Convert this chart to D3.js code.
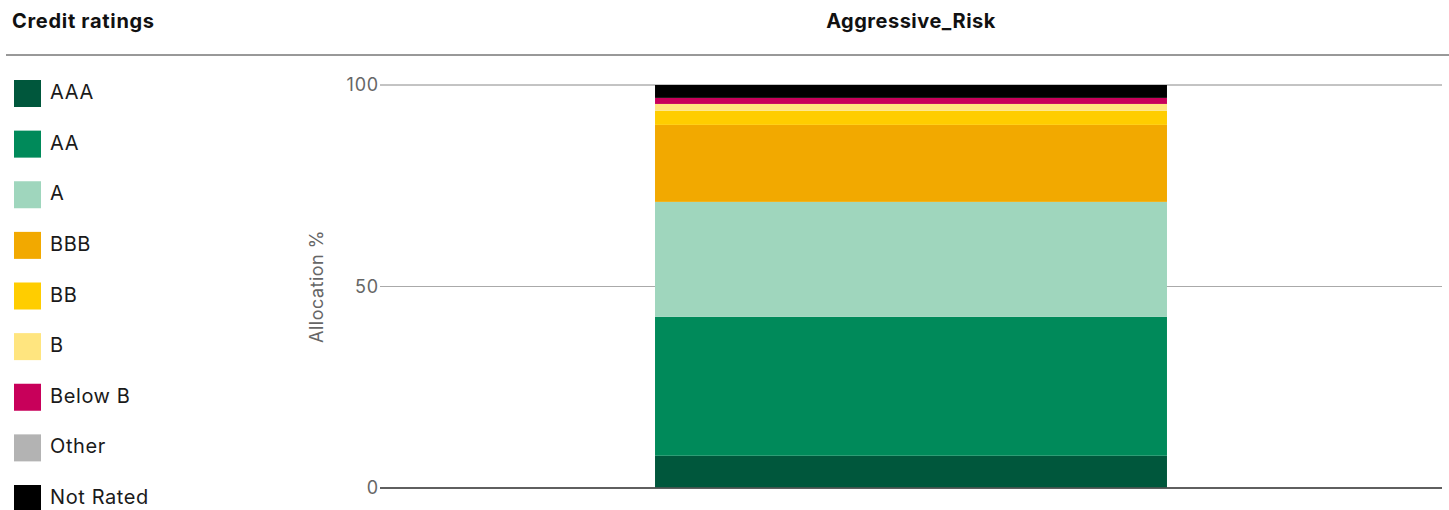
<!DOCTYPE html>
<html>
<head>
<meta charset="utf-8">
<title>Credit ratings</title>
<script src="https://d3js.org/d3.v7.min.js"></script>
<style>
    body { margin: 0; background: #fff; }
    svg { display: block; font-family: Inter, "Noto Sans", sans-serif; }
</style>
</head>
<body>
<svg id="chart" width="1449" height="510"></svg>
<script>
    // data
    var portfolios = ["Aggressive_Risk"];
    var ratings = ["AAA", "AA", "A", "BBB", "BB", "B", "Below B", "Other", "Not Rated"];
    var colors = ["#00573c", "#008a5a", "#9fd6bd", "#f2a900", "#ffcd00", "#ffe57f", "#c8005a", "#b3b3b3", "#000000"];
    var allocation = [8.0, 34.5, 28.5, 19.1, 3.5, 1.7, 1.5, 0, 3.2];
    var yTicks = [0, 50, 100];

    var svg = d3.select("#chart");

    // header
    svg.append("text")
        .attr("x", 12).attr("y", 28)
        .attr("font-size", 20).attr("font-weight", 700).attr("fill", "#111")
        .attr("letter-spacing", 0.7)
        .text("Credit ratings");

    svg.append("line")
        .attr("x1", 6).attr("x2", 1449).attr("y1", 55).attr("y2", 55)
        .attr("stroke", "#333").attr("stroke-width", 1);

    // legend
    var colorScale = d3.scaleOrdinal().domain(ratings).range(colors);
    var legendY = d3.scalePoint().domain(ratings).range([80, 485]);

    var leg = svg.append("g").selectAll("g")
        .data(ratings)
        .enter().append("g")
        .attr("transform", function(d) { return "translate(14," + legendY(d) + ")"; });
    leg.append("rect")
        .attr("width", 27).attr("height", 27)
        .attr("fill", function(d) { return colorScale(d); });
    leg.append("text")
        .attr("x", 36).attr("y", 12).attr("dy", "0.35em")
        .attr("font-size", 20).attr("fill", "#1a1a1a")
        .attr("letter-spacing", 0.6)
        .text(function(d) { return d; });

    // chart
    var x = d3.scaleBand().domain(portfolios).range([380, 1442]).paddingInner(0.5).paddingOuter(0.2686);
    var y = d3.scaleLinear().domain([0, 100]).range([488, 85]);

    svg.append("text")
        .attr("x", x(portfolios[0]) + x.bandwidth() / 2).attr("y", 28)
        .attr("text-anchor", "middle")
        .attr("font-size", 20).attr("font-weight", 700).attr("fill", "#111")
        .attr("letter-spacing", 0.5)
        .text(portfolios[0]);

    // gridlines
    var grid = svg.append("g");
    grid.selectAll("line")
        .data(yTicks)
        .enter().append("line")
        .attr("x1", 380).attr("x2", 1442)
        .attr("y1", function(d) { return y(d); })
        .attr("y2", function(d) { return y(d); })
        .attr("stroke", function(d) { return d === 0 ? "#555" : (d === 100 ? "#888" : "#aaa"); })
        .attr("stroke-width", function(d) { return d === 0 ? 1.5 : 1; });

    grid.selectAll("text")
        .data(yTicks)
        .enter().append("text")
        .attr("x", 379)
        .attr("y", function(d) { return y(d); })
        .attr("dy", "0.35em")
        .attr("text-anchor", "end")
        .attr("font-size", 18).attr("fill", "#666")
        .attr("letter-spacing", 0.8)
        .text(function(d) { return d; });

    svg.append("text")
        .attr("transform", "translate(323," + y(50) + ") rotate(-90)")
        .attr("text-anchor", "middle")
        .attr("font-size", 18).attr("fill", "#666")
        .attr("letter-spacing", 0.5)
        .text("Allocation %");

    // stacked bar
    var row = {};
    ratings.forEach(function(r, i) { row[r] = allocation[i]; });
    var series = d3.stack().keys(ratings)([row]);

    svg.append("g").selectAll("rect")
        .data(series)
        .enter().append("rect")
        .attr("x", x(portfolios[0]))
        .attr("width", x.bandwidth())
        .attr("y", function(d) { return y(d[0][1]); })
        .attr("height", function(d) { return y(d[0][0]) - y(d[0][1]); })
        .attr("fill", function(d) { return colorScale(d.key); });

    // redraw baseline on top
    svg.append("line")
        .attr("x1", 380).attr("x2", 1442).attr("y1", y(0)).attr("y2", y(0))
        .attr("stroke", "#555").attr("stroke-width", 1.5);
</script>
</body>
</html>
